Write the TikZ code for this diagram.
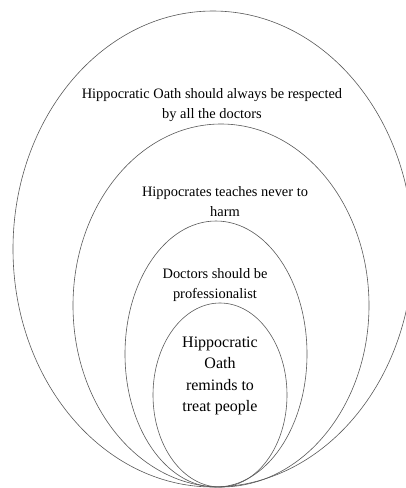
\documentclass[tikz,border=0pt]{standalone}
\usepackage{fontspec}
\setmainfont{Liberation Serif}
\usetikzlibrary{shapes.geometric}

\begin{document}
\begin{tikzpicture}[x=1pt,y=-1pt,
  ring/.style={ellipse,draw=black!65,line width=0.6pt,inner sep=0pt},
  ringtext/.style={align=center,font=\fontsize{14.4}{20}\selectfont},
  coretext/.style={align=center,font=\fontsize{16}{21.5}\selectfont}]
  \useasboundingbox (0,0) rectangle (406,488);
  \clip (0,0) rectangle (406,488);
  \node[ring,minimum width=400pt,minimum height=476pt] (oath) at (213,249) {};
  \node[ring,minimum width=296pt,minimum height=363pt] (harm) at (221,305.5) {};
  \node[ring,minimum width=182pt,minimum height=266pt] (prof) at (216,354) {};
  \node[ring,minimum width=134pt,minimum height=184pt] (treat) at (220,395) {};
  \node[ringtext] (oathtext) at (212,105) {Hippocratic Oath should always be respected\\by all the doctors};
  \node[ringtext] (harmtext) at (225,202) {Hippocrates teaches never to\\harm};
  \node[ringtext] (proftext) at (215,285) {Doctors should be\\professionalist};
  \node[coretext] (treattext) at (220,376) {Hippocratic\\Oath\\reminds to\\treat people};
\end{tikzpicture}
\end{document}
